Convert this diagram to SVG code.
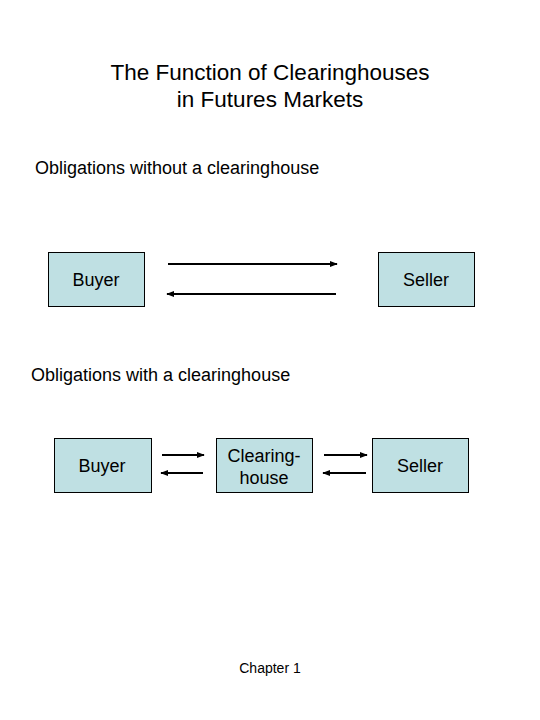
<svg xmlns="http://www.w3.org/2000/svg" width="540" height="720" viewBox="0 0 540 720">
<style>
text{font-family:"Liberation Sans",Arial,sans-serif;fill:#000}
.box rect{fill:#bfe0e3;stroke:#000;stroke-width:1}
.box text{font-size:18px;text-anchor:middle}
.c line{stroke:#000;stroke-width:2}
</style>
<defs>
<marker id="ah" viewBox="0 0 10 10" refX="9" refY="5" markerWidth="4" markerHeight="4" orient="auto" markerUnits="strokeWidth">
<path d="M0,1 L10,5 L0,9 z" fill="#000"/>
</marker>
</defs>
<rect width="540" height="720" fill="#fff"/>
<text x="270" y="80" font-size="22.5" text-anchor="middle">The Function of Clearinghouses</text>
<text x="270" y="107" font-size="22.5" text-anchor="middle">in Futures Markets</text>
<text x="35" y="174" font-size="18">Obligations without a clearinghouse</text>
<text x="31" y="381" font-size="18">Obligations with a clearinghouse</text>
<g id="buyer1" class="box"><rect x="48.5" y="252.5" width="96" height="54"/><text x="96" y="286">Buyer</text></g>
<g id="seller1" class="box"><rect x="378.5" y="252.5" width="96" height="54"/><text x="426" y="286">Seller</text></g>
<g id="buyer2" class="box"><rect x="54.5" y="438.5" width="97" height="54"/><text x="102" y="472">Buyer</text></g>
<g id="clearinghouse" class="box"><rect x="216.5" y="438.5" width="96" height="54"/><text x="264" y="462">Clearing-</text><text x="264" y="484">house</text></g>
<g id="seller2" class="box"><rect x="372.5" y="438.5" width="96" height="54"/><text x="420" y="472">Seller</text></g>
<g id="connectors" class="c">
<line x1="168" y1="264" x2="337" y2="264" marker-end="url(#ah)"/>
<line x1="336" y1="294" x2="167" y2="294" marker-end="url(#ah)"/>
<line x1="162" y1="455" x2="204" y2="455" marker-end="url(#ah)"/>
<line x1="203" y1="473" x2="161" y2="473" marker-end="url(#ah)"/>
<line x1="324" y1="455" x2="367" y2="455" marker-end="url(#ah)"/>
<line x1="366" y1="473" x2="323" y2="473" marker-end="url(#ah)"/>
</g>
<text x="270" y="673" font-size="14" text-anchor="middle">Chapter 1</text>
</svg>
